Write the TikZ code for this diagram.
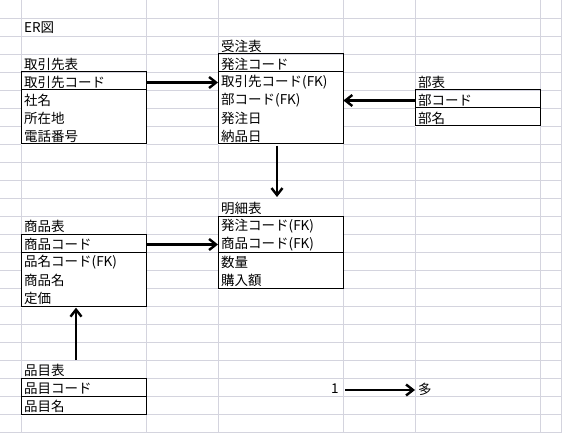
\documentclass[tikz,border=0pt]{standalone}
\usepackage{fontspec}
\newfontfamily\cjk{Noto Sans CJK JP}
\usetikzlibrary{arrows.meta}
\definecolor{gridgray}{RGB}{212,212,222}
\tikzset{
  gridline/.style={draw=gridgray, line width=0.8pt},
  rowc/.style={anchor=north west, inner xsep=3pt, inner ysep=0pt, minimum height=18pt,
    text width=119pt, align=left, font=\cjk\fontsize{13.5}{14}\selectfont, fill=white, yshift=-0.3pt},
  title/.style={anchor=west, inner sep=0pt, font=\cjk\fontsize{13.5}{14}\selectfont},
  boxline/.style={draw=black, line width=1pt},
  conn/.style={draw=black, line width=2.4pt, -{Straight Barb[length=7pt,width=11pt]}},
}
\begin{document}
\begin{tikzpicture}[x=1pt,y=-1pt]
\useasboundingbox (0,0) rectangle (562,433);
\fill[white] (0,0) rectangle (562,433);
% spreadsheet grid
\foreach \k in {1,...,24} \draw[gridline] (0,18*\k) -- (562,18*\k);
\foreach \xx in {21,146,218,343,415,540.5,561.5} \draw[gridline] (\xx,0) -- (\xx,433);

\node[title] (er) at (24,28) {ER図};

% 取引先表
\node[title] (tt) at (24,64) {取引先表};
\node[rowc] (tk1) at (21,73) {取引先コード};
\node[rowc] (tk2) at (21,91) {社名};
\node[rowc] (tk3) at (21,109) {所在地};
\node[rowc] (tk4) at (21,127) {電話番号};
\draw[boxline] (21,72) rectangle (146,144);
\draw[boxline] (21,90) -- (146,90);

% 受注表
\node[title] (jt) at (221,46) {受注表};
\node[rowc] (jc1) at (218,55) {発注コード};
\node[rowc] (jc2) at (218,73) {取引先コード(FK)};
\node[rowc] (jc3) at (218,91) {部コード(FK)};
\node[rowc] (jc4) at (218,109) {発注日};
\node[rowc] (jc5) at (218,127) {納品日};
\draw[boxline] (218,54) rectangle (343,144);
\draw[boxline] (218,72) -- (343,72);

% 部表
\node[title] (bt) at (418,82) {部表};
\node[rowc] (b1) at (415,91) {部コード};
\node[rowc] (b2) at (415,109) {部名};
\draw[boxline] (415,90) rectangle (540,126);
\draw[boxline] (415,108) -- (540,108);

% 明細表
\node[title] (mt) at (221,208) {明細表};
\node[rowc] (m1) at (218,217) {発注コード(FK)};
\node[rowc] (m2) at (218,235) {商品コード(FK)};
\node[rowc] (m3) at (218,253) {数量};
\node[rowc] (m4) at (218,271) {購入額};
\draw[boxline] (218,216) rectangle (343,288);
\draw[boxline] (218,252) -- (343,252);

% 商品表
\node[title] (st) at (24,226) {商品表};
\node[rowc] (s1) at (21,235) {商品コード};
\node[rowc] (s2) at (21,253) {品名コード(FK)};
\node[rowc] (s3) at (21,271) {商品名};
\node[rowc] (s4) at (21,289) {定価};
\draw[boxline] (21,234) rectangle (146,306);
\draw[boxline] (21,252) -- (146,252);

% 品目表
\node[title] (ht) at (24,370) {品目表};
\node[rowc] (h1) at (21,379) {品目コード};
\node[rowc] (h2) at (21,397) {品目名};
\draw[boxline] (21,378) rectangle (146,414);
\draw[boxline] (21,396) -- (146,396);

% connectors
\draw[conn] (tk1.east) -- (jc2.west);
\draw[conn] (b1.west) -- (jc3.east);
\coordinate (d1) at (277,197);
\draw[conn] (jc5.south -| d1) -- (d1);
\draw[conn] (s1.east) -- (m2.west);
\coordinate (u1) at (76,360);
\draw[conn] (u1) -- (s4.south -| u1);

% legend
\node[title] (one) at (331,389) {1};
\node[title] (many) at (418,389) {多};
\draw[conn] (345,390) -- (415,390);
\end{tikzpicture}
\end{document}
